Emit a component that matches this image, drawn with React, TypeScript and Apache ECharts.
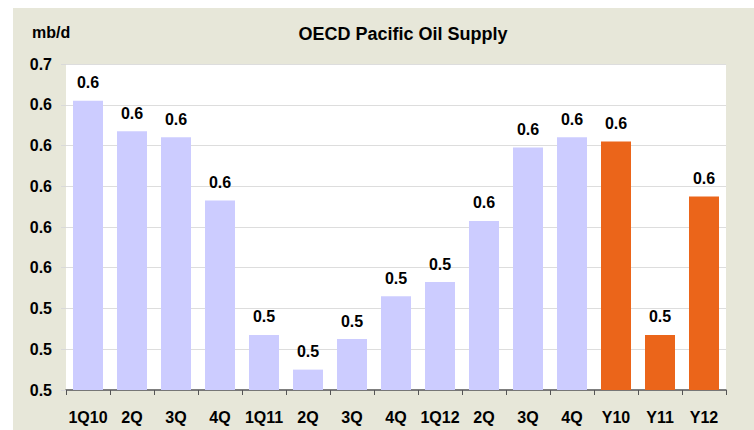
import React, { useEffect, useRef } from "react";
import * as echarts from "echarts";

const categories = ["1Q10", "2Q", "3Q", "4Q", "1Q11", "2Q", "3Q", "4Q", "1Q12", "2Q", "3Q", "4Q", "Y10", "Y11", "Y12"];
const supplyValues = [0.632, 0.617, 0.614, 0.583, 0.517, 0.500, 0.515, 0.536, 0.543, 0.573, 0.609, 0.614, 0.612, 0.517, 0.585];
const isAnnual = [false, false, false, false, false, false, false, false, false, false, false, false, true, true, true];

const FONT = 'Arial, "Liberation Sans", sans-serif';

export default function App() {
  const ref = useRef<HTMLDivElement>(null);
  useEffect(() => {
    if (!ref.current) return;
    const chart = echarts.init(ref.current, null, { renderer: "svg" });
    const fmt1 = (v: number) => (Math.round(v * 10 + 1e-9) / 10).toFixed(1);
    chart.setOption({
      animation: false,
      backgroundColor: "#ffffff",
      graphic: [
        { type: "rect", left: 13, top: 8, shape: { width: 760, height: 440 }, style: { fill: "#E7E7D9" }, z: -10 },
        { type: "text", x: 403, y: 34, style: { text: "OECD Pacific Oil Supply", font: `bold 18px ${FONT}`, fill: "#000", textAlign: "center", textVerticalAlign: "middle" } },
        { type: "text", x: 32, y: 32, style: { text: "mb/d", font: `bold 16px ${FONT}`, fill: "#000", textAlign: "left", textVerticalAlign: "middle" } },
      ],
      grid: { left: 66, right: 28, top: 64, bottom: 40, show: true, backgroundColor: "#ffffff", borderWidth: 0 },
      xAxis: {
        type: "category",
        data: categories,
        axisLine: { show: true, lineStyle: { color: "#555555", width: 1.5 } },
        axisTick: { show: true, length: 5, inside: false, lineStyle: { color: "#555555" } },
        axisLabel: { color: "#000", fontFamily: FONT, fontWeight: "bold", fontSize: 16, margin: 19, interval: 0 },
      },
      yAxis: {
        type: "value",
        min: 0.49,
        max: 0.65,
        interval: 0.02,
        axisLine: { show: false },
        axisTick: { show: true, length: 5, lineStyle: { color: "#D9D9D9" } },
        splitLine: { show: true, lineStyle: { color: "#DDDDDD", width: 1 } },
        axisLabel: { color: "#000", fontFamily: FONT, fontWeight: "bold", fontSize: 16, margin: 14, formatter: (v: number) => fmt1(v) },
      },
      series: [
        {
          type: "bar",
          barWidth: 30,
          data: supplyValues.map((v, i) => ({
            value: v,
            itemStyle: { color: isAnnual[i] ? "#EB651A" : "#CCCCFF" },
          })),
          label: {
            show: true,
            position: "top",
            distance: 10,
            color: "#000",
            fontFamily: FONT,
            fontWeight: "bold",
            fontSize: 16,
            formatter: (p: any) => fmt1(p.value),
          },
        },
      ],
    });
    return () => chart.dispose();
  }, []);
  return <div ref={ref} style={{ position: "fixed", left: 0, top: 0, width: 754, height: 430 }} />;
}
